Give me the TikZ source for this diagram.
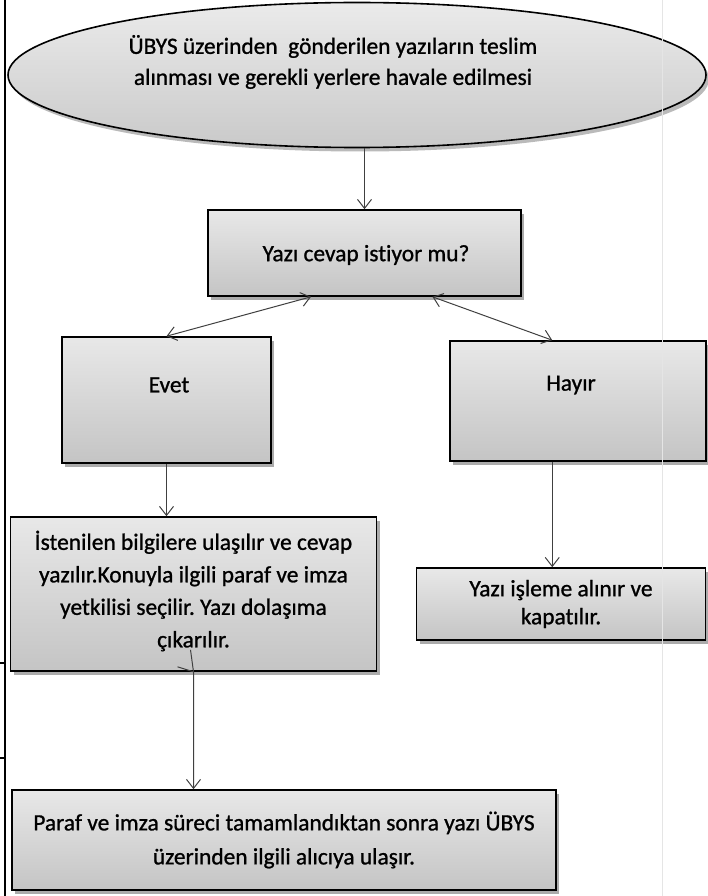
\documentclass[tikz,border=0pt]{standalone}
\usepackage{fontspec}
\setmainfont{Carlito}[FakeBold=1.0,RawFeature={-liga;-dlig;-clig}]
\usetikzlibrary{arrows.meta,shapes.geometric,shadows,calc}
\frenchspacing
\begin{document}
\begin{tikzpicture}[x=1pt,y=-1pt,
  box/.style={draw=black, line width=1.6pt, top color=gray!18, bottom color=gray!46,
    drop shadow={shadow xshift=3pt, shadow yshift=-4pt, fill=black!60, opacity=0.55}},
  txt/.style={font=\fontsize{23.4}{31}\selectfont, align=center, inner sep=0pt, text=black},
  tip/.tip={Straight Barb[length=9pt,width=14pt,line width=1pt]},
  conn/.style={draw=black!75, line width=1pt, -tip},
  dconn/.style={draw=black!75, line width=1pt, tip-tip}]
\useasboundingbox (0,0) rectangle (708,896);
\fill[white] (0,0) rectangle (708,896);
% page frame lines
\draw[line width=1.3pt] (5,0) -- (5,896);
\draw[line width=1.3pt] (0,663) -- (5,663);
\draw[line width=1.3pt] (0,758) -- (5,758);
% start ellipse
\node[ellipse, draw=black, line width=1.6pt, top color=gray!16, bottom color=gray!42,
  minimum width=698pt, minimum height=145pt, inner sep=0pt,
  drop shadow={shadow xshift=3pt, shadow yshift=-4pt, fill=black!60, opacity=0.45}] (start) at (357,75) {};
\node[txt] (t0) at (333,62) {ÜBYS üzerinden~ gönderilen yazıların teslim\\alınması ve gerekli yerlere havale edilmesi};
% question box
\node[box, minimum width=313pt, minimum height=86pt] (q) at (364.5,253) {};
\node[txt] (tq) at (366,255) {Yazı cevap istiyor mu?};
% Evet / Hayir
\node[box, minimum width=209pt, minimum height=126pt] (evet) at (166.5,400) {};
\node[txt] (te) at (169,385) {Evet};
\node[box, minimum width=256pt, minimum height=120pt] (hayir) at (578,401) {};
\node[txt] (th) at (571,385) {Hayır};
% lower boxes
\node[box, minimum width=366pt, minimum height=154pt] (ist) at (193.5,594) {};
\node[txt, font=\fontsize{23.4}{32.5}\selectfont] (ti) at (193.5,591) {İstenilen bilgilere ulaşılır ve cevap\\yazılır.Konuyla ilgili paraf ve imza\\yetkilisi seçilir. Yazı dolaşıma\\çıkarılır.};
\node[box, minimum width=289pt, minimum height=72pt] (yz) at (561,604) {};
\node[txt, font=\fontsize{23.4}{28}\selectfont] (ty) at (561,604) {Yazı işleme alınır ve\\kapatılır.};
\node[box, minimum width=544pt, minimum height=100pt] (son) at (284,840) {};
\node[txt, font=\fontsize{23.4}{34}\selectfont] (ts) at (284,840) {Paraf ve imza süreci tamamlandıktan sonra yazı ÜBYS\\üzerinden ilgili alıcıya ulaşır.};
% connectors
\draw[conn] (q.north |- start.south) -- (q.north);
\draw[dconn] ($(q.south west)!0.33!(q.south east)$) -- (evet.north);
\draw[dconn] ($(q.south west)!0.716!(q.south east)$) -- ($(hayir.north west)!0.4!(hayir.north east)$);
\draw[conn] (evet.south) -- (evet.south |- ist.north);
\draw[conn] ($(hayir.south west)!0.4!(hayir.south east)$) coordinate (h1) -- (h1 |- yz.north);
\draw[conn] ([xshift=-3pt,yshift=22pt]ist.south) -- (ist.south) -- (son.north -| ist.south);
\draw[draw=black!75, line width=1pt] ([xshift=-16pt,yshift=5pt]ist.south) -- (ist.south);
% faint scan line
\draw[gray!20, line width=0.8pt] (662,0) -- (662,896);
\end{tikzpicture}
\end{document}
